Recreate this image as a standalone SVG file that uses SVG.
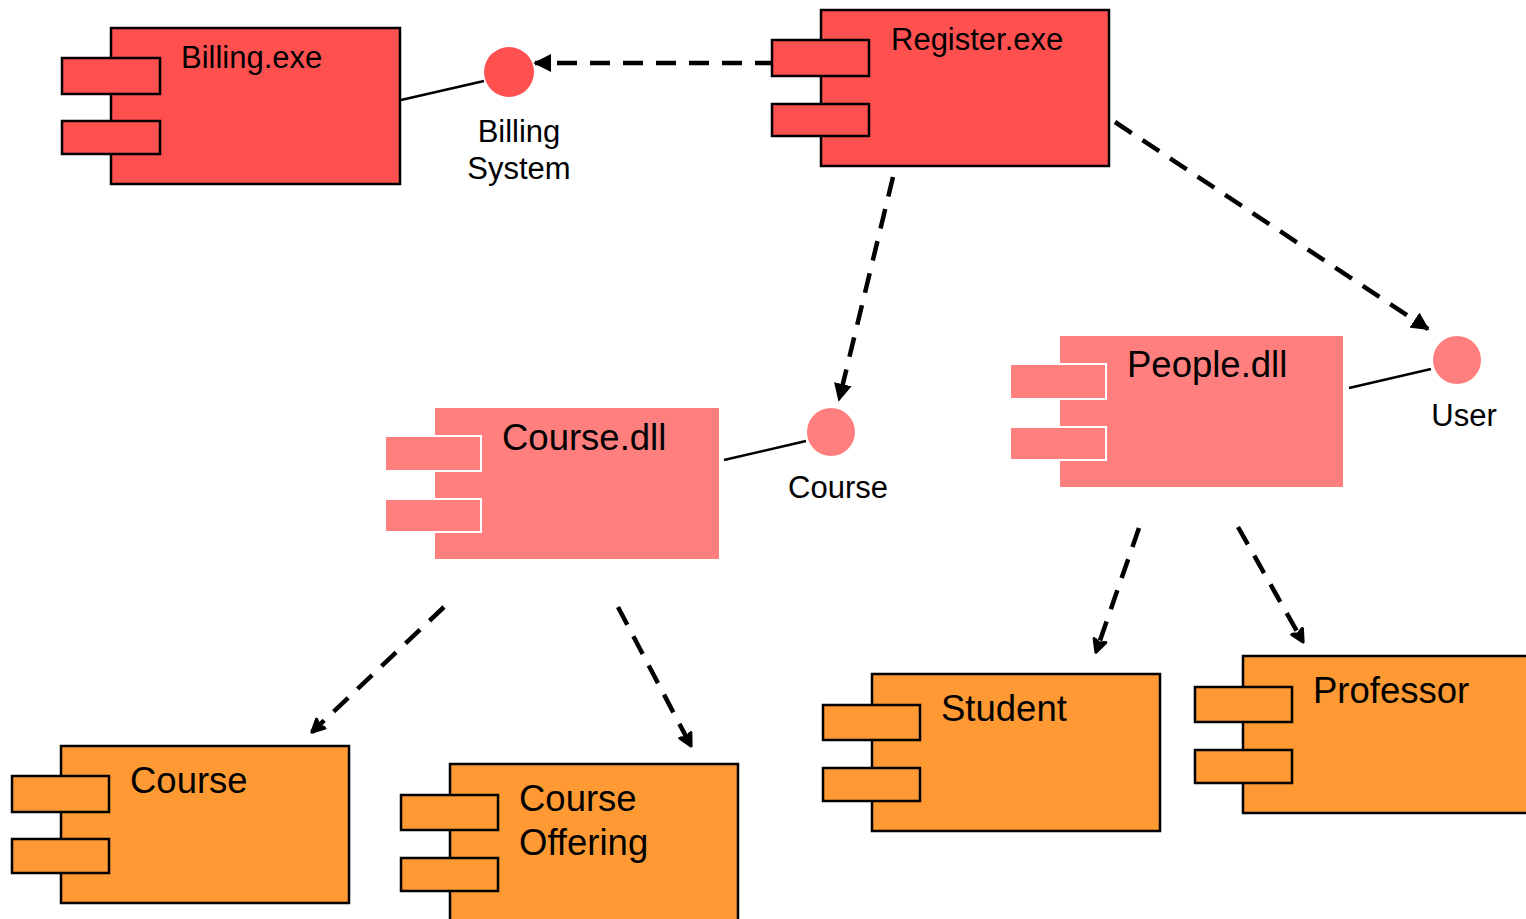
<svg xmlns="http://www.w3.org/2000/svg" width="1526" height="919" viewBox="0 0 1526 919">
<defs>
<style>
.red{fill:#FF5050;stroke:#000;stroke-width:2.5}
.pink{fill:#FF7F7F;stroke:#fff;stroke-width:2}
.orange{fill:#FF9933;stroke:#000;stroke-width:2.5}
.t{font-family:"Liberation Sans",Arial,sans-serif;fill:#000}
.t31{font-size:31px}
.t37{font-size:36.5px}
.lbl{font-family:"Liberation Sans",Arial,sans-serif;font-size:31px;fill:#000;text-anchor:middle}
.dash{fill:none;stroke:#000;stroke-width:4.5;stroke-dasharray:20 13}
.solid{fill:none;stroke:#000;stroke-width:2.5}
</style>
<marker id="tri" viewBox="0 0 10 10" refX="9" refY="5" markerWidth="4" markerHeight="4" markerUnits="strokeWidth" orient="auto">
<path d="M0,0 L10,5 L0,10 Z" fill="#000"/>
</marker>
<marker id="vee" viewBox="0 0 12 12" refX="10" refY="6" markerWidth="3.6" markerHeight="3.6" markerUnits="strokeWidth" orient="auto">
<path d="M1,1.5 L10,6 L1,10.5 L3,6 Z" fill="#000" stroke="#000" stroke-width="2.4" stroke-linejoin="round"/>
</marker>
</defs>
<g id="connectors">
<line class="solid" x1="401" y1="100" x2="484" y2="81"/>
<line class="solid" x1="724" y1="460" x2="806" y2="441"/>
<line class="solid" x1="1349" y1="388" x2="1431" y2="369"/>
<line class="dash" x1="775" y1="63" x2="535" y2="63" marker-end="url(#tri)"/>
<line class="dash" x1="893" y1="177" x2="839" y2="400" marker-end="url(#tri)"/>
<line class="dash" x1="1115" y1="122" x2="1428" y2="329" marker-end="url(#tri)"/>
<line class="dash" x1="444" y1="607" x2="312" y2="732" marker-end="url(#vee)"/>
<line class="dash" x1="618" y1="607" x2="691" y2="746" marker-end="url(#vee)"/>
<line class="dash" x1="1139" y1="528" x2="1096" y2="652" marker-end="url(#vee)"/>
<line class="dash" x1="1238" y1="527" x2="1303" y2="642" marker-end="url(#vee)"/>
</g>
<g id="billing-exe">
<rect class="red" x="111" y="28" width="289" height="156"/>
<rect class="red" x="62" y="58" width="98" height="36"/>
<rect class="red" x="62" y="121" width="98" height="33"/>
<text class="t t31" x="181" y="68">Billing.exe</text>
</g>
<g id="register-exe">
<rect class="red" x="821" y="10" width="288" height="156"/>
<rect class="red" x="772" y="40" width="97" height="36"/>
<rect class="red" x="772" y="104" width="97" height="32"/>
<text class="t t31" x="891" y="50">Register.exe</text>
</g>
<g id="billing-system">
<circle cx="509" cy="72" r="25" fill="#FF5050"/>
<text class="lbl" x="519" y="142">Billing</text>
<text class="lbl" x="519" y="179">System</text>
</g>
<g id="course-dll">
<rect class="pink" x="434" y="407" width="286" height="153"/>
<rect class="pink" x="385" y="436" width="96" height="35"/>
<rect class="pink" x="385" y="499" width="96" height="33"/>
<text class="t t37" x="502" y="450">Course.dll</text>
</g>
<g id="course-iface">
<circle cx="831" cy="432" r="24" fill="#FF7F7F"/>
<text class="lbl" x="838" y="498">Course</text>
</g>
<g id="people-dll">
<rect class="pink" x="1059" y="335" width="285" height="153"/>
<rect class="pink" x="1010" y="364" width="96" height="35"/>
<rect class="pink" x="1010" y="427" width="96" height="33"/>
<text class="t t37" x="1127" y="377">People.dll</text>
</g>
<g id="user-iface">
<circle cx="1457" cy="360" r="24" fill="#FF7F7F"/>
<text class="lbl" x="1464" y="426">User</text>
</g>
<g id="course">
<rect class="orange" x="61" y="746" width="288" height="157"/>
<rect class="orange" x="12" y="776" width="97" height="36"/>
<rect class="orange" x="12" y="839" width="97" height="34"/>
<text class="t t37" x="130" y="793">Course</text>
</g>
<g id="course-offering">
<rect class="orange" x="450" y="764" width="288" height="170"/>
<rect class="orange" x="401" y="795" width="97" height="35"/>
<rect class="orange" x="401" y="858" width="97" height="33"/>
<text class="t t37" x="519" y="811">Course</text>
<text class="t t37" x="519" y="855">Offering</text>
</g>
<g id="student">
<rect class="orange" x="872" y="674" width="288" height="157"/>
<rect class="orange" x="823" y="705" width="97" height="35"/>
<rect class="orange" x="823" y="768" width="97" height="33"/>
<text class="t t37" x="941" y="721">Student</text>
</g>
<g id="professor">
<rect class="orange" x="1243" y="656" width="295" height="157"/>
<rect class="orange" x="1195" y="687" width="97" height="35"/>
<rect class="orange" x="1195" y="750" width="97" height="33"/>
<text class="t t37" x="1313" y="703">Professor</text>
</g>
</svg>
